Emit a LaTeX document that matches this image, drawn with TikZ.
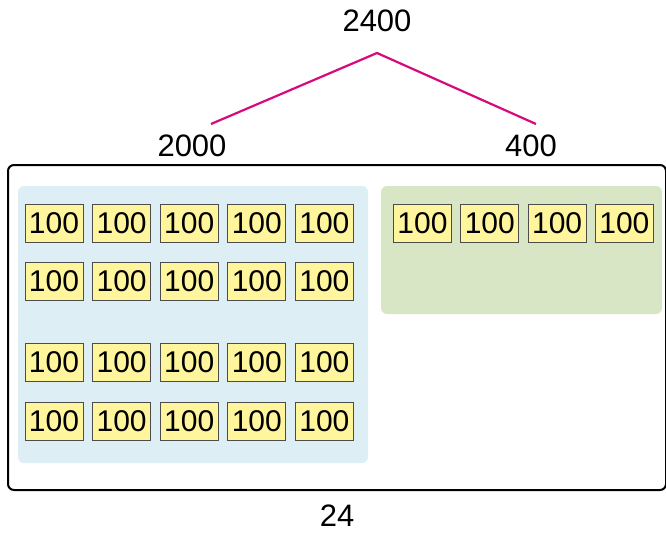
\documentclass[tikz,border=0pt]{standalone}
\usepackage{fontspec}
\setmainfont{Liberation Sans}
\usepackage{xcolor}
\usepackage{tikz}

\definecolor{cellfill}{RGB}{255,245,157}
\definecolor{bluepanel}{RGB}{222,238,245}
\definecolor{greenpanel}{RGB}{216,230,197}
\definecolor{linkpink}{RGB}{214,10,125}

\begin{document}
\begin{tikzpicture}[x=1pt, y=-1pt,
  cell/.style={draw=black!70, fill=cellfill, line width=0.9pt, minimum width=58pt,
    minimum height=38pt, inner sep=0pt, font=\fontsize{30}{34}\selectfont},
  lbl/.style={inner sep=0pt, font=\fontsize{31}{36}\selectfont},
  panel/.style={rounded corners=6pt, inner sep=0pt},
  link/.style={linkpink, line width=2.2pt}]

\useasboundingbox (0,0) rectangle (666,533);

% Outer box and panels
\node[panel, draw=black, line width=2pt, minimum width=658pt, minimum height=325pt] (outer) at (337,327.5) {};
\node[panel, fill=bluepanel, minimum width=350pt, minimum height=277pt] (left) at (193,324.5) {};
\node[panel, fill=greenpanel, minimum width=281pt, minimum height=128pt] (right) at (521.5,250) {};

% Labels
\node[lbl] (total) at (377,21) {2400};
\node[lbl] (big) at (192,146) {2000};
\node[lbl] (small) at (531,146) {400};
\node[lbl] (count) at (337,516) {24};

% Split lines
\coordinate (apex) at (377,53);
\coordinate (lend) at (211,124);
\coordinate (rend) at (536,124);
\draw[link] (lend) -- (apex) -- (rend);

% Cells in the left panel
\foreach \r/\y in {1/223, 2/281, 3/362.5, 4/421} {
  \foreach \c in {1,...,5} {
    \node[cell] (a\r\c) at ({54+67.6*(\c-1)},\y) {100};
  }
}

% Cells in the right panel
\foreach \c in {1,...,4} {
  \node[cell] (b\c) at ({422.5+67.3*(\c-1)},223) {100};
}

\end{tikzpicture}
\end{document}
